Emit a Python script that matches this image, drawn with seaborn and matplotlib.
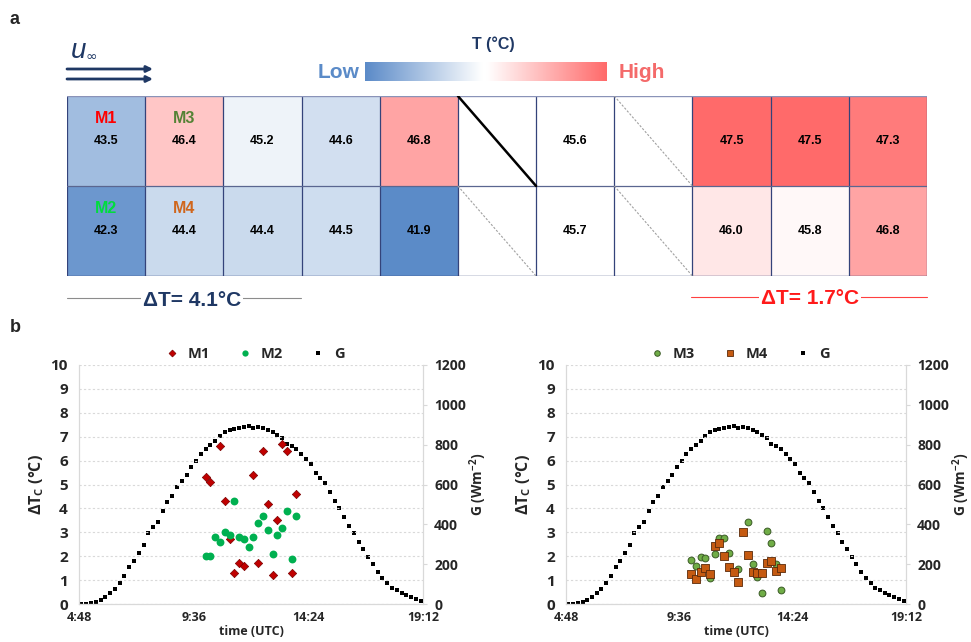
import numpy as np
import pandas as pd
import matplotlib
matplotlib.use("Agg")
import matplotlib.pyplot as plt
import seaborn as sns
from matplotlib.colors import LinearSegmentedColormap, TwoSlopeNorm
from matplotlib.lines import Line2D

# ---- panel a: module temperatures (deg C), NaN = no module
row_top = [43.5, 46.4, 45.2, 44.6, 46.8, np.nan, 45.6, np.nan, 47.5, 47.5, 47.3]
row_bottom = [42.3, 44.4, 44.4, 44.5, 41.9, np.nan, 45.7, np.nan, 46.0, 45.8, 46.8]
module_names = ["M1", "M3", "M2", "M4"]
module_cells = [(0, 0), (1, 0), (0, 1), (1, 1)]  # (col, row)
module_colors = ["#ff0000", "#548235", "#00dd3c", "#d0661c"]
dt_left = "ΔT= 4.1°C"
dt_right = "ΔT= 1.7°C"

# ---- panel b: irradiance G (W/m2), every 12 min from 4:54
g_values = [0, 0, 3, 8, 20, 33, 54, 77, 107, 139,
            184, 218, 254, 298, 356, 387, 413, 467, 512, 544,
            586, 619, 648, 686, 720, 753, 778, 798, 820, 844,
            862, 872, 880, 885, 889, 892, 882, 887, 882, 872,
            864, 849, 832, 803, 793, 778, 751, 728, 701, 656,
            631, 606, 561, 517, 482, 437, 393, 358, 311, 276,
            236, 199, 162, 131, 104, 82, 70, 55, 45, 33,
            27, 15]
g_time = 4.9 + 0.2 * np.arange(len(g_values))

m1_time = [10.1, 10.3, 10.7, 10.9, 11.1, 11.3, 11.5, 11.7, 12.1,
           12.3, 12.5, 12.7, 12.9, 13.1, 13.3, 13.5, 13.7, 13.9]
m1_dt = [5.3, 5.1, 6.6, 4.3, 2.7, 1.3, 1.7, 1.6, 5.4,
         1.7, 6.4, 4.2, 1.2, 3.5, 6.7, 6.4, 1.3, 4.6]

m2_time = [10.1, 10.3, 10.5, 10.7, 10.9, 11.1, 11.3, 11.5, 11.7, 11.9,
           12.1, 12.3, 12.5, 12.7, 12.9, 13.1, 13.3, 13.5, 13.7, 13.9]
m2_dt = [2.0, 2.0, 2.8, 2.6, 3.0, 2.9, 4.3, 2.8, 2.7, 2.4,
         2.8, 3.4, 3.7, 3.1, 2.1, 2.9, 3.2, 3.9, 1.9, 3.7]

m3_time = [10.1, 10.3, 10.5, 10.7, 10.9, 11.1, 11.3, 11.5, 11.7,
           12.1, 12.5, 12.7, 12.9, 13.1, 13.3, 13.5, 13.7, 13.9]
m3_dt = [1.85, 1.58, 1.97, 1.91, 1.09, 2.09, 2.78, 2.78, 2.12,
         1.45, 3.44, 1.67, 1.12, 0.47, 3.05, 2.54, 1.66, 0.57]

m4_time = [10.1, 10.3, 10.5, 10.7, 10.9, 11.1, 11.3, 11.5, 11.7, 11.9,
           12.1, 12.3, 12.5, 12.7, 12.9, 13.1, 13.3, 13.5, 13.7, 13.9]
m4_dt = [1.24, 1.03, 1.32, 1.49, 1.27, 2.44, 2.55, 1.99, 1.53, 1.35,
         0.92, 3.00, 2.05, 1.35, 1.30, 1.30, 1.72, 1.80, 1.37, 1.52]

time_ticks = [4.8, 9.6, 14.4, 19.2]
time_labels = ["4:48", "9:36", "14:24", "19:12"]

sns.set_style("white")
plt.rcParams["font.family"] = ["Open Sans", "DejaVu Sans"]
plt.rcParams["mathtext.default"] = "regular"

NAVY = "#1f3864"
W, H = 971, 642
fig = plt.figure(figsize=(9.71, 6.42), dpi=100)


def px_axes(x0, y0, x1, y1):
    return fig.add_axes([x0 / W, 1 - y1 / H, (x1 - x0) / W, (y1 - y0) / H])


cmap = LinearSegmentedColormap.from_list(
    "lowhigh", [(0, "#5b8bc8"), (0.485, "#ffffff"), (0.505, "#ffffff"), (1, "#ff6a6a")])
norm = TwoSlopeNorm(vmin=41.9, vcenter=45.7, vmax=47.5)

# heat map of modules
axh = px_axes(67, 96, 927, 276)
grid = pd.DataFrame([row_top, row_bottom])
sns.heatmap(grid, ax=axh, cmap=cmap, norm=norm, cbar=False, annot=True, fmt=".1f",
            annot_kws=dict(color="black", fontsize=9, fontweight="bold",
                           family="Liberation Sans"),
            linewidths=0, xticklabels=False, yticklabels=False)
for i in range(grid.shape[1] + 1):
    axh.axvline(i, color="#34437a", lw=0.9)
axh.axhline(0, color="#8a93b8", lw=1.0)
axh.axhline(1, color="#5a6690", lw=0.9)
axh.axhline(2, color="#34437a", lw=1.0)
for name, (c, r), col in zip(module_names, module_cells, module_colors):
    axh.text(c + 0.5, r + 0.25, name, ha="center", va="center", color=col,
             fontsize=11.5, fontweight="bold", family="Liberation Sans")
axh.plot([5, 6], [0, 1], color="black", lw=1.8)
axh.plot([5, 6], [1, 2], color="#a0a0a0", lw=0.8, ls=(0, (2, 1.5)))
axh.plot([7, 8], [0, 1], color="#a0a0a0", lw=0.8, ls=(0, (2, 1.5)))
axh.plot([7, 8], [1, 2], color="#a0a0a0", lw=0.8, ls=(0, (2, 1.5)))

# colour scale
axc = px_axes(365, 62, 607, 81)
axc.imshow(np.linspace(0, 1, 256)[None, :], aspect="auto", cmap=cmap)
axc.axis("off")


def style_panel(ax, ax2):
    ax.set_xlim(4.8, 19.2)
    ax.set_ylim(0, 10)
    ax2.set_ylim(0, 1200)
    ax.set_xticks(time_ticks)
    ax.set_xticklabels(time_labels)
    ax.set_yticks(range(0, 11))
    ax2.set_yticks(range(0, 1201, 200))
    ax.grid(axis="y", color="#d9d9d9", ls=(0, (2, 2)), lw=0.8)
    ax.grid(axis="x", visible=False)
    for a in (ax, ax2):
        for s in a.spines.values():
            s.set_visible(False)
    ax.spines["left"].set_visible(True)
    ax.spines["bottom"].set_visible(True)
    ax2.spines["right"].set_visible(True)
    for s in (ax.spines["left"], ax.spines["bottom"], ax2.spines["right"]):
        s.set_color("#d9d9d9")
        s.set_linewidth(0.9)
    ax.tick_params(axis="y", length=0, pad=8, labelsize=11, labelcolor="#262626")
    ax.tick_params(axis="x", length=0, pad=5, labelsize=9, labelcolor="#262626")
    ax2.tick_params(axis="y", length=3, color="#d9d9d9", pad=5, labelsize=10,
                    labelcolor="#262626")
    for lab in ax.get_xticklabels() + ax.get_yticklabels() + ax2.get_yticklabels():
        lab.set_fontweight("bold")
    ax.set_ylabel("ΔT$_{C}$ (°C)", fontsize=11.5, fontweight="bold", labelpad=3)
    ax2.set_ylabel("G (Wm$^{-2}$)", fontsize=10, fontweight="bold", labelpad=1)
    ax.set_xlabel("time (UTC)", fontsize=9, fontweight="bold", labelpad=1)


def g_series(ax2):
    sns.scatterplot(x=g_time, y=g_values, ax=ax2, marker="s", s=9, color="black",
                    linewidth=0, legend=False, zorder=3)


legend_font = dict(size=10.5, weight="bold")

# left chart: M1, M2
axl = px_axes(79, 365, 423, 604)
axl2 = axl.twinx()
sns.scatterplot(x=m1_time, y=m1_dt, ax=axl, marker="D", s=18, color="#c00000",
                edgecolor="#7a0000", linewidth=0.5, legend=False, zorder=4)
sns.scatterplot(x=m2_time, y=m2_dt, ax=axl, marker="o", s=32, color="#00b050",
                linewidth=0, legend=False, zorder=4)
g_series(axl2)
axl.set_zorder(axl2.get_zorder() + 1)
axl.patch.set_visible(False)
style_panel(axl, axl2)
hl = [Line2D([], [], ls="", marker="D", ms=3.5, color="#c00000", mec="#7a0000", mew=0.5),
      Line2D([], [], ls="", marker="o", ms=4.5, color="#00b050", mew=0),
      Line2D([], [], ls="", marker="s", ms=3.2, color="black", mew=0)]
axl.legend(hl, ["M1", "M2", "G"], loc="center", bbox_to_anchor=(0.5, 1.045), ncol=3,
           frameon=False, handletextpad=0.1, columnspacing=1.4, prop=legend_font)

# right chart: M3, M4
axr = px_axes(566, 365, 906, 604)
axr2 = axr.twinx()
sns.scatterplot(x=m3_time, y=m3_dt, ax=axr, marker="o", s=24, color="#70ad47",
                edgecolor="#3a5a25", linewidth=0.7, legend=False, zorder=4)
sns.scatterplot(x=m4_time, y=m4_dt, ax=axr, marker="s", s=28, color="#c55a11",
                edgecolor="#5a2a0a", linewidth=0.6, legend=False, zorder=4)
g_series(axr2)
axr.set_zorder(axr2.get_zorder() + 1)
axr.patch.set_visible(False)
style_panel(axr, axr2)
hr = [Line2D([], [], ls="", marker="o", ms=4, color="#70ad47", mec="#3a5a25", mew=0.7),
      Line2D([], [], ls="", marker="s", ms=4.5, color="#c55a11", mec="#5a2a0a", mew=0.6),
      Line2D([], [], ls="", marker="s", ms=3.2, color="black", mew=0)]
axr.legend(hr, ["M3", "M4", "G"], loc="center", bbox_to_anchor=(0.5, 1.045), ncol=3,
           frameon=False, handletextpad=0.1, columnspacing=1.4, prop=legend_font)

# overlay for labels, arrows and annotations (pixel coordinates)
ov = fig.add_axes([0, 0, 1, 1])
ov.set_xlim(0, W)
ov.set_ylim(H, 0)
ov.axis("off")
ov.set_zorder(10)

arial = "Liberation Sans"
ov.text(10, 20, "a", fontsize=13, fontweight="bold", family=arial, va="center")
ov.text(10, 327, "b", fontsize=13, fontweight="bold", family=arial, va="center")
ov.text(71, 51, "u", fontsize=20, style="italic", color=NAVY, family=arial, va="center")
ov.text(86, 57, "∞", fontsize=10, color=NAVY, family="DejaVu Sans", va="center")
for yy in (69, 79):
    ov.annotate("", xy=(153, yy), xytext=(67, yy),
                arrowprops=dict(arrowstyle="-|>", color=NAVY, lw=2, mutation_scale=9,
                                shrinkA=0, shrinkB=0))
ov.text(493, 44, "T (°C)", fontsize=11.5, fontweight="bold", color=NAVY, family=arial,
        ha="center", va="center")
ov.text(339, 72, "Low", fontsize=15, fontweight="bold", color="#5b8bc8", family=arial,
        ha="center", va="center")
ov.text(642, 72, "High", fontsize=15, fontweight="bold", color="#f46a6a", family=arial,
        ha="center", va="center")

ov.plot([67, 301], [298, 298], color="#8c8c8c", lw=0.8)
ov.text(192, 300, dt_left, fontsize=15, fontweight="bold", color=NAVY, family=arial,
        ha="center", va="center", bbox=dict(fc="white", ec="none", pad=1))
ov.plot([691, 927], [297, 297], color="#ff4040", lw=0.8)
ov.text(810, 299, dt_right, fontsize=15, fontweight="bold", color="#ff1a1a", family=arial,
        ha="center", va="center", bbox=dict(fc="white", ec="none", pad=1))

fig.savefig("out.png", dpi=100)
